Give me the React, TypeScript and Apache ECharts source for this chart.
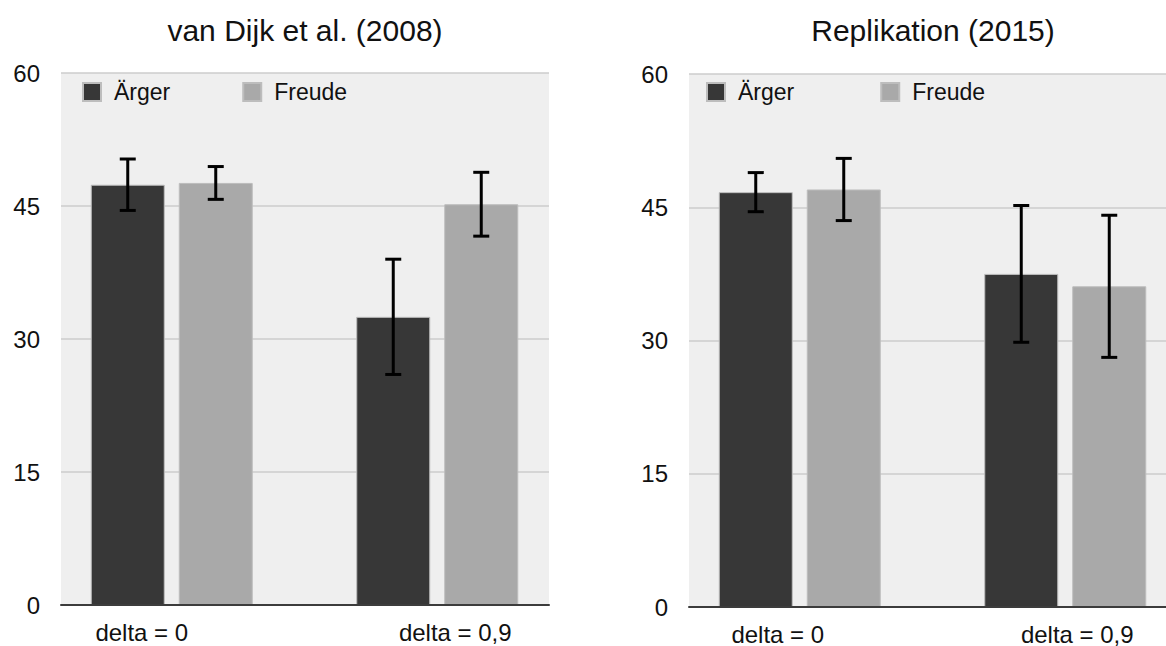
import { useEffect, useRef } from "react";
import * as echarts from "echarts";

// ---- data ----
const categories = ["delta = 0", "delta = 0,9"];
const seriesNames = ["Ärger", "Freude"];
const panelTitles = ["van Dijk et al. (2008)", "Replikation (2015)"];

const vanDijkAerger = [47.4, 32.5];
const vanDijkAergerErr = [2.9, 6.5];
const vanDijkFreude = [47.6, 45.2];
const vanDijkFreudeErr = [1.85, 3.6];

const replAerger = [46.7, 37.5];
const replAergerErr = [2.2, 7.7];
const replFreude = [47.0, 36.1];
const replFreudeErr = [3.5, 8.0];

const yMin = 0;
const yMax = 60;
const yStep = 15;

// ---- styles / layout ----
const FONT = "'Liberation Sans', Arial, Helvetica, sans-serif";
const DARK = "#373737";
const LIGHT = "#a9a9a9";
const BAR_W = 74;
const BAR_GAP_PX = 14;
const CAP = 8;
const CW = 1166;

const panels = [
  {
    plotLeft: 61,
    top: 73,
    height: 532,
    legendLeft: 82,
    legendGap: 72,
    labelPad: [60, 36],
    means: [vanDijkAerger, vanDijkFreude],
    errs: [vanDijkAergerErr, vanDijkFreudeErr],
  },
  {
    plotLeft: 689,
    top: 74,
    height: 533,
    legendLeft: 706,
    legendGap: 86,
    labelPad: [44, 24],
    means: [replAerger, replFreude],
    errs: [replAergerErr, replFreudeErr],
  },
];

const PLOT_W = 488;
// category centres (boundaryGap false) relative to the plot's left edge
const CAT0_OFFSET = 110.75;
const CAT_SPACING = 265.5;

export default function App() {
  const ref = useRef<HTMLDivElement>(null);

  useEffect(() => {
    if (!ref.current) return;
    const chart = echarts.init(ref.current, undefined, { renderer: "svg" });

    const grid: any[] = [];
    const xAxis: any[] = [];
    const yAxis: any[] = [];
    const series: any[] = [];
    const legend: any[] = [];
    const graphic: any[] = [];

    panels.forEach((p, pi) => {
      const bgIdx = grid.length;
      grid.push({
        left: p.plotLeft,
        width: Math.min(PLOT_W, CW - p.plotLeft),
        top: p.top,
        height: p.height,
        show: true,
        backgroundColor: "#efefef",
        borderWidth: 0,
      });
      const barIdx = grid.length;
      grid.push({
        left: p.plotLeft + CAT0_OFFSET,
        width: CAT_SPACING,
        top: p.top,
        height: p.height,
      });

      // background grid axes
      xAxis.push({
        type: "category",
        gridIndex: bgIdx,
        data: [""],
        z: 10,
        axisLine: { show: true, lineStyle: { color: "#3c3c3c", width: 2 } },
        axisTick: { show: false },
        axisLabel: { show: false },
        splitLine: { show: false },
      });
      yAxis.push({
        type: "value",
        gridIndex: bgIdx,
        min: yMin,
        max: yMax,
        interval: yStep,
        axisLine: { show: false },
        axisTick: { show: false },
        splitLine: { show: true, lineStyle: { color: "#cccccc", width: 1.5 } },
        axisLabel: {
          fontSize: 24,
          fontFamily: FONT,
          color: "#111",
          margin: 21,
          padding: [6, 0, 0, 0],
        },
      });

      // bar grid axes
      const rich: any = {};
      p.labelPad.forEach((pad, i) => {
        rich["c" + i] = {
          fontSize: 24,
          fontFamily: FONT,
          color: "#111",
          padding: i === 0 ? [0, pad, 0, 0] : [0, 0, 0, pad],
        };
      });
      xAxis.push({
        type: "category",
        gridIndex: barIdx,
        data: categories,
        boundaryGap: false,
        axisLine: { show: false },
        axisTick: { show: false },
        splitLine: { show: false },
        axisLabel: {
          margin: 15,
          fontSize: 24,
          fontFamily: FONT,
          color: "#111",
          interval: 0,
          formatter: (v: string, i: number) => `{c${i}|${v}}`,
          rich,
        },
      });
      yAxis.push({
        type: "value",
        gridIndex: barIdx,
        min: yMin,
        max: yMax,
        interval: yStep,
        show: false,
      });

      const xAxisIndex = xAxis.length - 1;
      const yAxisIndex = yAxis.length - 1;
      const colors = [DARK, LIGHT];
      const offsets = [-(BAR_W + BAR_GAP_PX) / 2, (BAR_W + BAR_GAP_PX) / 2];

      seriesNames.forEach((name, si) => {
        series.push({
          type: "bar",
          name,
          xAxisIndex,
          yAxisIndex,
          data: p.means[si],
          barWidth: BAR_W,
          barGap: `${(BAR_GAP_PX / BAR_W) * 100}%`,
          clip: false,
          itemStyle: { color: colors[si], borderColor: "#bdbdbd", borderWidth: 1 },
          z: 3,
        });
      });
      seriesNames.forEach((name, si) => {
        const off = offsets[si];
        series.push({
          type: "custom",
          name: name + " SE",
          xAxisIndex,
          yAxisIndex,
          z: 6,
          clip: false,
          data: p.means[si].map((m, i) => [i, m - p.errs[si][i], m + p.errs[si][i]]),
          renderItem: (params: any, api: any) => {
            const cat = api.value(0);
            const lo = api.coord([cat, api.value(1)]);
            const hi = api.coord([cat, api.value(2)]);
            const x = lo[0] + off;
            const style = { stroke: "#000", lineWidth: 3 };
            return {
              type: "group",
              children: [
                { type: "line", shape: { x1: x, y1: hi[1], x2: x, y2: lo[1] }, style },
                { type: "line", shape: { x1: x - CAP, y1: hi[1], x2: x + CAP, y2: hi[1] }, style },
                { type: "line", shape: { x1: x - CAP, y1: lo[1], x2: x + CAP, y2: lo[1] }, style },
              ],
            };
          },
        });
      });

      legend.push({
        data: seriesNames,
        left: p.legendLeft,
        top: 80,
        orient: "horizontal",
        padding: 0,
        itemWidth: 18,
        itemHeight: 18,
        itemGap: p.legendGap,
        icon: "rect",
        selectedMode: false,
        textStyle: {
          fontSize: 23,
          fontFamily: FONT,
          color: "#111",
          lineHeight: 24,
          padding: [0, 0, 0, 8],
        },
      });

      graphic.push({
        type: "text",
        x: p.plotLeft + PLOT_W / 2,
        y: 30,
        style: {
          text: panelTitles[pi],
          fontSize: 30,
          fontFamily: FONT,
          fill: "#111",
          textAlign: "center",
          textVerticalAlign: "middle",
        },
      });
    });

    chart.setOption({
      animation: false,
      backgroundColor: "#ffffff",
      grid,
      xAxis,
      yAxis,
      series,
      legend,
      graphic,
    });

    return () => chart.dispose();
  }, []);

  return (
    <div
      ref={ref}
      style={{ position: "fixed", left: 0, top: 0, width: CW, height: 646, background: "#fff" }}
    />
  );
}
